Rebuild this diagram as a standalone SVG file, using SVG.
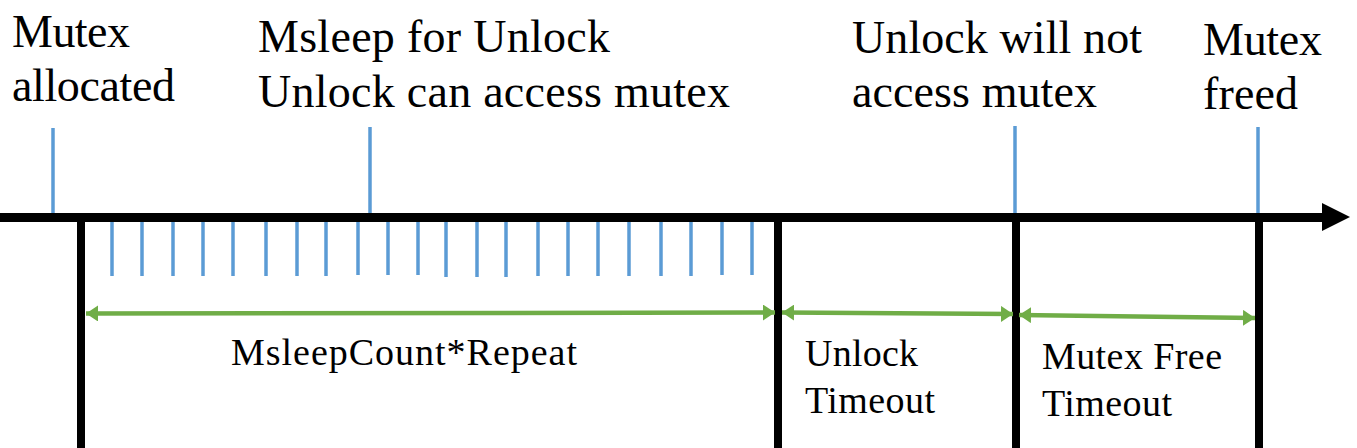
<svg xmlns="http://www.w3.org/2000/svg" width="1357" height="448" viewBox="0 0 1357 448">
<style>
.big{font-size:46px}
.sm{font-size:38px}
.blue{stroke:#5B9BD5;stroke-width:3.5}
.tick{stroke:#5B9BD5;stroke-width:3.5}
.blk{stroke:#000;stroke-width:8}
.grn{stroke:#70AD47;stroke-width:4.5;fill:none;marker-start:url(#ga);marker-end:url(#ga)}
</style>
<defs>
<marker id="ga" viewBox="0 0 12 16" refX="12" refY="8" markerWidth="12" markerHeight="16" markerUnits="userSpaceOnUse" orient="auto-start-reverse">
<path d="M0,0 L12,8 L0,16 Z" fill="#70AD47"/>
</marker>
</defs>
<g id="connectors">
<line x1="0" y1="217.5" x2="1324" y2="217.5" stroke="#000" stroke-width="9"/>
<polygon points="1322,203 1350,217 1322,231" fill="#000"/>
<line class="blue" x1="53" y1="128" x2="53" y2="213"/>
<line class="blue" x1="370" y1="127" x2="370" y2="213"/>
<line class="blue" x1="1015" y1="126" x2="1015" y2="213"/>
<line class="blue" x1="1258" y1="127" x2="1258" y2="213"/>
<line class="blk" x1="81" y1="222" x2="81" y2="448"/>
<line class="blk" x1="778" y1="222" x2="778" y2="448"/>
<line class="blk" x1="1016" y1="222" x2="1016" y2="448"/>
<line class="blk" x1="1259" y1="222" x2="1259" y2="448"/>
<g id="ticks">
<line class="tick" x1="112" y1="222" x2="112" y2="276"/>
<line class="tick" x1="142" y1="222" x2="142" y2="276"/>
<line class="tick" x1="173" y1="222" x2="173" y2="276"/>
<line class="tick" x1="203" y1="222" x2="203" y2="276"/>
<line class="tick" x1="233" y1="222" x2="233" y2="276"/>
<line class="tick" x1="266" y1="222" x2="266" y2="276"/>
<line class="tick" x1="297" y1="222" x2="297" y2="276"/>
<line class="tick" x1="326" y1="222" x2="326" y2="276"/>
<line class="tick" x1="358" y1="222" x2="358" y2="275"/>
<line class="tick" x1="388" y1="222" x2="388" y2="275"/>
<line class="tick" x1="418" y1="222" x2="418" y2="275"/>
<line class="tick" x1="446" y1="222" x2="446" y2="277"/>
<line class="tick" x1="477" y1="222" x2="477" y2="277"/>
<line class="tick" x1="506" y1="222" x2="506" y2="277"/>
<line class="tick" x1="538" y1="222" x2="538" y2="276"/>
<line class="tick" x1="568" y1="222" x2="568" y2="276"/>
<line class="tick" x1="598" y1="222" x2="598" y2="276"/>
<line class="tick" x1="629" y1="222" x2="629" y2="276"/>
<line class="tick" x1="661" y1="222" x2="661" y2="276"/>
<line class="tick" x1="691" y1="222" x2="691" y2="276"/>
<line class="tick" x1="722" y1="222" x2="722" y2="275"/>
<line class="tick" x1="752" y1="222" x2="752" y2="275"/>
</g>
<line class="grn" x1="86" y1="313.5" x2="775" y2="312.5"/>
<line class="grn" x1="782" y1="312.5" x2="1013" y2="314"/>
<line class="grn" x1="1019" y1="315" x2="1255" y2="318"/>
</g>
<g font-family="Liberation Serif, Times New Roman, DejaVu Serif, serif" fill="#000">
<g id="n-mutex-allocated">
<text class="big" x="12" y="47" textLength="118">Mutex</text>
<text class="big" x="12" y="101" textLength="163">allocated</text>
</g>
<g id="n-msleep">
<text class="big" x="258" y="52" textLength="352">Msleep for Unlock</text>
<text class="big" x="258" y="107" textLength="472">Unlock can access mutex</text>
</g>
<g id="n-unlock-not">
<text class="big" x="852" y="53" textLength="290">Unlock will not</text>
<text class="big" x="852" y="107" textLength="245">access mutex</text>
</g>
<g id="n-mutex-freed">
<text class="big" x="1203" y="55" textLength="119">Mutex</text>
<text class="big" x="1203" y="109" textLength="95">freed</text>
</g>
<g id="n-msleepcount">
<text class="sm" x="231" y="365" textLength="346">MsleepCount*Repeat</text>
</g>
<g id="n-unlock-timeout">
<text class="sm" x="805" y="366" textLength="113">Unlock</text>
<text class="sm" x="805" y="413" textLength="130">Timeout</text>
</g>
<g id="n-mutex-free-timeout">
<text class="sm" x="1042" y="369" textLength="180">Mutex Free</text>
<text class="sm" x="1042" y="416" textLength="130">Timeout</text>
</g>
</g>
</svg>
